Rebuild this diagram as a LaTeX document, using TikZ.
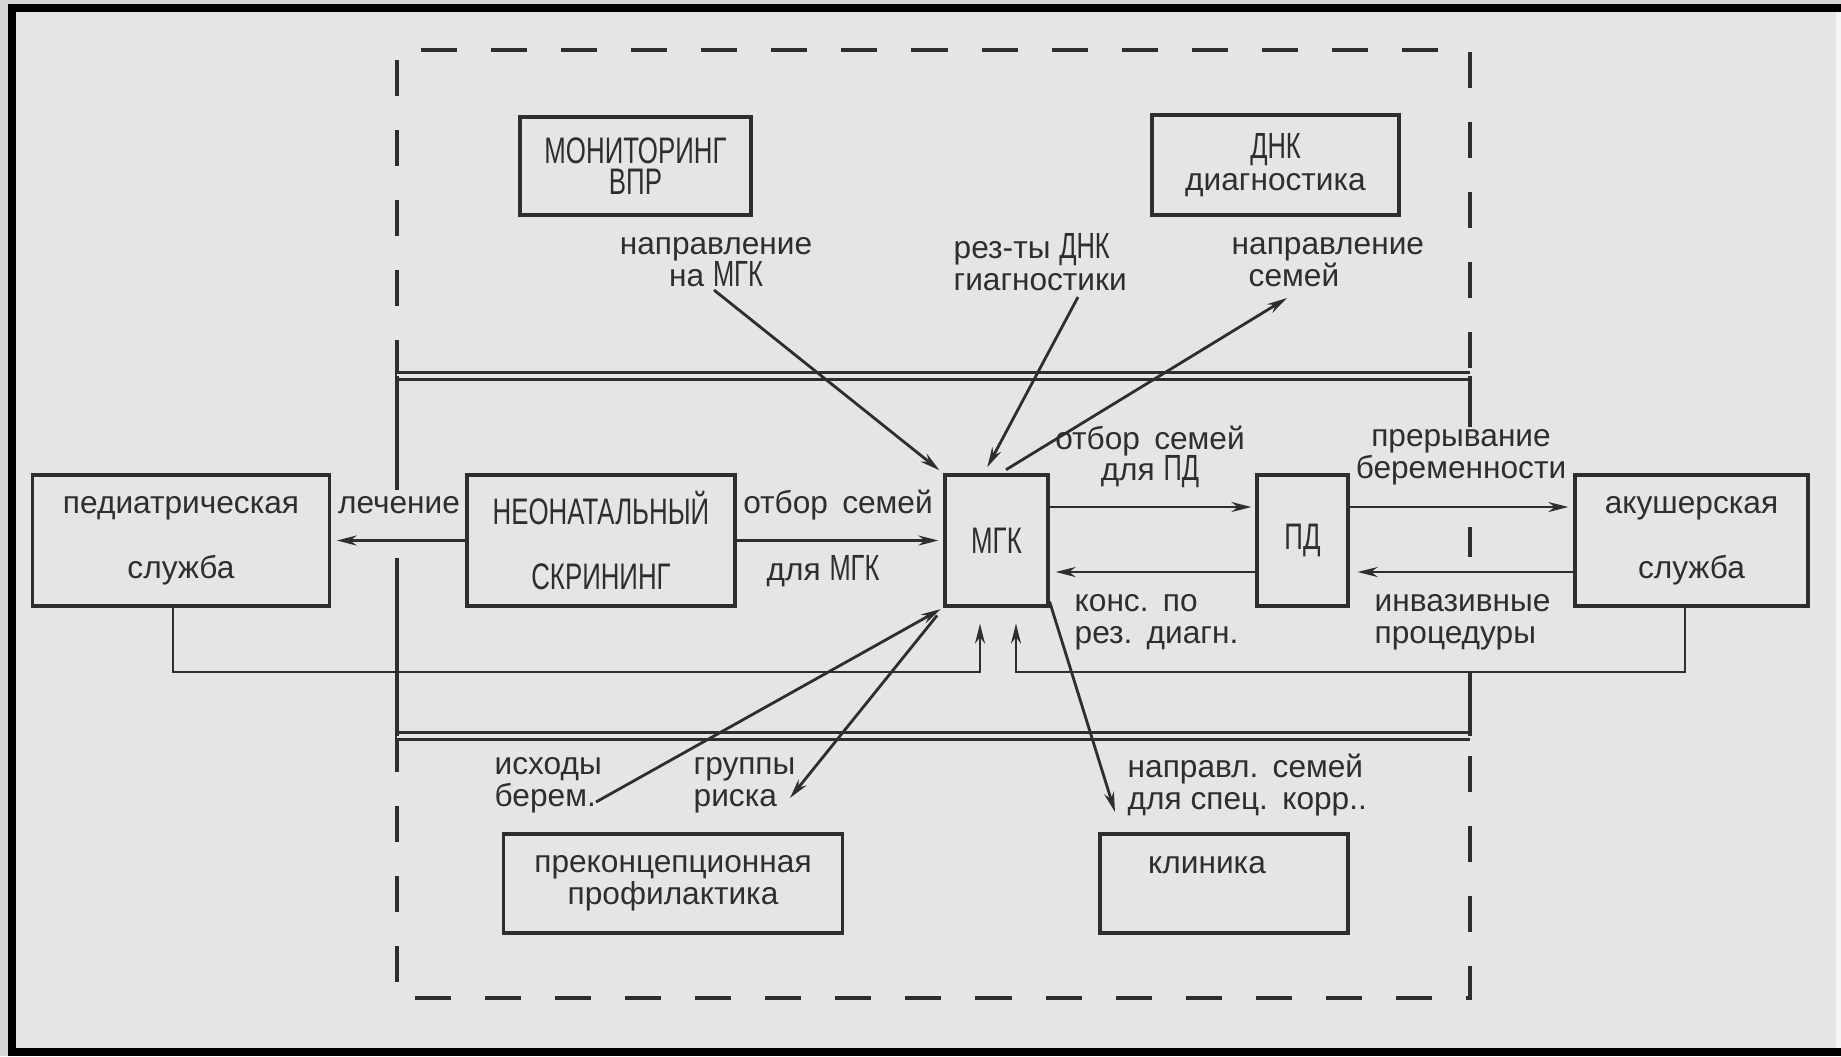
\documentclass[tikz,border=0pt]{standalone}
\usepackage{fontspec}
\setmainfont{Liberation Sans}
\newfontfamily\capsf{Liberation Sans}[FakeStretch=0.7]
\newfontfamily\capsb{Liberation Sans}[FakeStretch=0.7, Scale=1.15]
\usetikzlibrary{arrows.meta}
\definecolor{bg}{HTML}{E5E5E3}
\definecolor{outer}{HTML}{D6D6D4}
\definecolor{ink}{HTML}{2E2E2E}
\newcommand{\C}[1]{{\capsb #1}}
\newcommand{\wsp}{\hspace{0.45em}}
\tikzset{
  lc/.style={font=\fontsize{9}{9}\selectfont, text=ink, inner sep=0pt},
  uc/.style={font=\fontsize{10.5}{10}\selectfont\capsf, text=ink, inner sep=0pt},
  box/.style={draw=ink, line width=0.9pt, inner sep=0pt, align=center},
  arr/.style={draw=ink, line width=0.8pt, -{Stealth[length=0.2cm,width=0.1cm]}},
  dbl/.style={draw=ink, line width=0.8pt, double=bg, double distance=1.3pt},
  side/.style={draw=ink, line width=1.1pt},
  dsh/.style={draw=ink, line width=1.1pt, dash pattern=on 0.36cm off 0.34cm},
}
\begin{document}
\begin{tikzpicture}[x=0.01cm,y=-0.01cm]
\useasboundingbox (0,0) rectangle (1841,1056);
% page and frame
\fill[outer] (0,0) rectangle (1841,1056);
\fill[bg] (12,8) rectangle (1836,1052);
\fill[black] (8,4) rectangle (1841,12);
\fill[black] (8,4) rectangle (16,1056);
\fill[black] (8,1048) rectangle (1841,1056);
\fill[white!92!gray] (1836,12) rectangle (1841,1048);

% outer dashed frame
\draw[dsh] (397,376) -- (397,50) -- (1470,50) -- (1470,376);
\draw[dsh] (397,736) -- (397,998) -- (1470,998) -- (1470,736);

% inner solid frame
\draw[dbl] (397,376) -- (1470,376);
\draw[dbl] (397,736) -- (1470,736);
\draw[side] (397,376) -- (397,490);
\draw[side] (397,558) -- (397,736);
\draw[side] (1470,376) -- (1470,427);
\draw[side] (1470,527) -- (1470,557);
\draw[side] (1470,672) -- (1470,736);

% boxes
\node[box, minimum width=2.31cm, minimum height=0.98cm, uc, font=\fontsize{10.5}{9}\selectfont\capsf] (mon) at (635.5,166) {МОНИТОРИНГ\\ВПР};
\node[box, minimum width=2.47cm, minimum height=1.00cm, lc] (dnk) at (1275.5,165) {\C{ДНК}\\диагностика};
\node[box, minimum width=2.96cm, minimum height=1.31cm, lc] (ped) at (181,540.5) {педиатрическая\\[9.5pt]служба};
\node[box, minimum width=2.68cm, minimum height=1.31cm, uc] (neo) at (601,540.5) {НЕОНАТАЛЬНЫЙ\\[8.5pt]СКРИНИНГ};
\node[box, minimum width=1.03cm, minimum height=1.31cm, uc] (mgk) at (996.5,540.5) {МГК};
\node[box, minimum width=0.91cm, minimum height=1.31cm, uc] (pd) at (1302.5,540.5) {ПД};
\node[box, minimum width=2.33cm, minimum height=1.31cm, lc] (ak) at (1691.5,540.5) {акушерская\\[9.5pt]служба};
\node[box, minimum width=3.38cm, minimum height=0.99cm, lc] (pre) at (673,883.5) {преконцепционная\\профилактика};
\node[box, minimum width=2.48cm, minimum height=0.99cm] (kl) at (1224,883.5) {};
\node[lc] (klt) at (1207,865) {клиника};

% labels
\node[lc, align=center] (l1) at (716,262) {направление\\на \C{МГК}};
\node[lc, align=left, anchor=west] (l2) at (953,262) {рез-ты \C{ДНК}\\гиагностики};
\node[lc, align=left, anchor=west] (l3) at (1231,262) {направление\\\hspace*{0.17cm}семей};
\node[lc, align=left, anchor=west] (l4) at (494,785) {исходы\\берем.};
\node[lc, align=left, anchor=west] (l5) at (693,785) {группы\\риска};
\node[lc, align=left, anchor=west] (l6) at (1127,785) {направл.\wsp семей\\для спец.\wsp корр..};
\node[lc, align=center] (l7) at (1150,457) {отбор\wsp семей\\для \C{ПД}};
\node[lc, align=center] (l8) at (1461,457) {прерывание\\беременности};
\node[lc, align=left, anchor=west] (l9) at (1074,622) {конс.\wsp по\\рез.\wsp диагн.};
\node[lc, align=left, anchor=west] (l10) at (1374,622) {инвазивные\\процедуры};
\node[lc] (lec) at (399,505) {лечение};
\node[lc] (ob1) at (838,505) {отбор\wsp семей};
\node[lc] (ob2) at (823,571) {для \C{МГК}};

% free ends of the slanted connectors
\coordinate (a1s) at (714,290);
\coordinate (a2s) at (1078,297);
\coordinate (a3e) at (1287,298);
\coordinate (a4s) at (596,802);
\coordinate (a5e) at (790,798);
\coordinate (a6e) at (1115,812);
% rows and feedback corners
\coordinate (r1) at (0,507);
\coordinate (r2) at (0,572);
\coordinate (f1) at (173,672);
\coordinate (m1) at (980,672);
\coordinate (f2) at (1685,672);
\coordinate (m2) at (1016,672);

% horizontal connectors
\draw[arr, shorten >=0.06cm] (neo.west) -- (ped.east);
\draw[arr, shorten >=0.05cm] (neo.east) -- (mgk.west);
\draw[arr, shorten >=0.04cm] (mgk.east |- r1) -- (pd.west |- r1);
\draw[arr, shorten >=0.06cm] (pd.west |- r2) -- (mgk.east |- r2);
\draw[arr, shorten >=0.05cm] (pd.east |- r1) -- (ak.west |- r1);
\draw[arr, shorten >=0.08cm] (ak.west |- r2) -- (pd.east |- r2);

% feedback lines
\draw[arr, line width=0.7pt, shorten >=0.16cm] (ped.south -| f1) -- (f1) -- (m1) -- (mgk.south -| m1);
\draw[arr, line width=0.7pt, shorten >=0.16cm] (ak.south -| f2) -- (f2) -- (m2) -- (mgk.south -| m2);

% slanted connectors
\draw[arr, shorten >=0.05cm] (a1s) -- (mgk.north west);
\draw[arr, shorten >=0.07cm] (a2s) -- ([xshift=-0.125cm]mgk.north);
\draw[arr, shorten <=0.07cm] ([xshift=0.035cm]mgk.north) -- (a3e);
\draw[arr, shorten >=0.03cm] (a4s) -- (mgk.south west);
\draw[arr, shorten <=0.1cm] (mgk.south west) -- (a5e);
\draw[arr] ([yshift=0.06cm]mgk.south east) -- (a6e);
\end{tikzpicture}
\end{document}
